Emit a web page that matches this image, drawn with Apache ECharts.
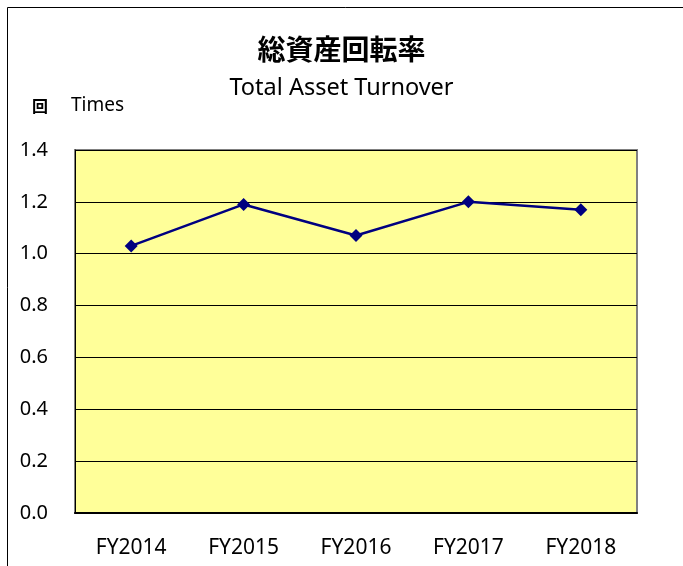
<!DOCTYPE html>
<html><head><meta charset="utf-8">
<script src="https://cdn.jsdelivr.net/npm/echarts@6/dist/echarts.min.js"></script>
<style>html,body{margin:0;padding:0;background:#fff}#c{width:683px;height:566px}</style>
</head><body><div id="c"></div>
<script>
const categories = ['FY2014','FY2015','FY2016','FY2017','FY2018'];
const turnover = [1.03, 1.19, 1.07, 1.20, 1.17];
const titleJa = '総資産回転率';
const titleEn = 'Total Asset Turnover';
const unitJa = '回';
const unitEn = 'Times';

const chart = echarts.init(document.getElementById('c'), null, {renderer:'canvas'});
const font = '"Noto Sans","Noto Sans CJK JP",sans-serif';
chart.setOption({
  animation:false,
  backgroundColor:'#fff',
  title:[
    {text:titleJa, left:'center', top:30, textStyle:{fontFamily:'"Noto Sans CJK JP",sans-serif', fontSize:28, fontWeight:'bold', color:'#000'}},
  ],
  graphic:[
    {type:'rect', shape:{x:7.5,y:7.5,width:700,height:600}, style:{fill:'none', stroke:'#000', lineWidth:1}, silent:true, z:-1},
    {type:'text', left:'center', top:77, style:{text:titleEn, font:'23.5px '+font, fill:'#000'}},
    {type:'text', left:32, top:98, style:{text:unitJa, font:'bold 16px "Noto Sans CJK JP",sans-serif', fill:'#000'}},
    {type:'text', left:71, top:96, style:{text:unitEn, font:'19px '+font, fill:'#000'}}
  ],
  grid:{left:75, top:150, right:46, bottom:53, show:true, backgroundColor:'#FFFF99', borderColor:'#808080', borderWidth:2},
  xAxis:{
    type:'category', data:categories, boundaryGap:true,
    axisLine:{lineStyle:{color:'#000', width:2}},
    axisTick:{inside:true, length:6, lineStyle:{color:'#000'}},
    axisLabel:{fontFamily:font, fontSize:21, color:'#000', margin:25}
  },
  yAxis:{
    type:'value', min:0, max:1.4, interval:0.2,
    axisLine:{show:true, lineStyle:{color:'#000', width:1}},
    axisTick:{show:false},
    splitLine:{lineStyle:{color:'#000', width:1}},
    axisLabel:{fontFamily:font, fontSize:20, color:'#000', margin:27, formatter:v=>v.toFixed(1)}
  },
  series:[{
    type:'line', data:turnover, symbol:'diamond', symbolSize:13,
    lineStyle:{color:'#000080', width:2.5}, itemStyle:{color:'#000080'}
  }]
});
</script></body></html>
